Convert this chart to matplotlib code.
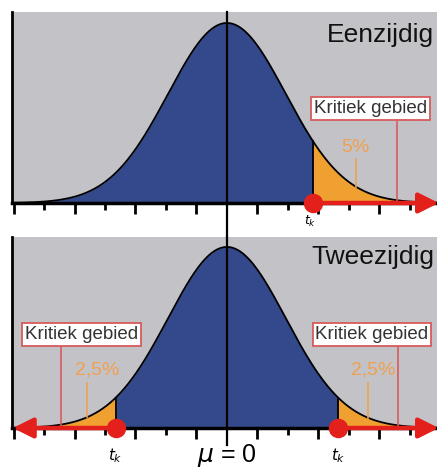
import numpy as np
import matplotlib
matplotlib.use("Agg")
import matplotlib.pyplot as plt

plt.rcParams['font.family'] = ['Liberation Sans', 'DejaVu Sans']

# x in tick units, mu = 0 in the middle
sigma = 1.93
tk_one = 2.82            # eenzijdig
tk_two = [-3.65, 3.65]   # tweezijdig
ticks = np.arange(-7, 7)
titles = ['Eenzijdig', 'Tweezijdig']
pct_one = '5%'
pct_two = '2,5%'
box_text = 'Kritiek gebied'

gray = '#c3c3c7'
blue = '#33498c'
orange = '#f0a030'
red = '#e3201b'
pink = '#d85a5a'
txt_orange = '#f0a050'

xmin, xmax = -7.05, 6.89


def pdf(x):
    return np.exp(-x ** 2 / (2 * sigma ** 2))


fig = plt.figure(figsize=(4.37, 4.72), dpi=100)
ax1 = fig.add_axes([12 / 437, 1 - 203 / 472, 1 - 12 / 437, 191 / 472])
ax2 = fig.add_axes([12 / 437, 1 - 428 / 472, 1 - 12 / 437, 191 / 472])

x = np.linspace(xmin, xmax, 600)
y = pdf(x)

for ax, top in [(ax1, 1.061), (ax2, 1.055)]:
    ax.set_facecolor(gray)
    ax.set_xlim(xmin, xmax)
    ax.set_ylim(0, top)
    for s in ['top', 'right']:
        ax.spines[s].set_visible(False)
    ax.spines['left'].set_linewidth(2)
    ax.spines['bottom'].set_linewidth(2.5)
    ax.set_yticks([])
    ax.set_xticks(ticks[ticks % 2 != 0], minor=False)
    ax.set_xticks(ticks[(ticks % 2 == 0) & (ticks != 0)], minor=True)
    ax.tick_params(axis='x', which='major', direction='out', length=8, width=2, labelbottom=False)
    ax.tick_params(axis='x', which='minor', direction='out', length=5, width=2)
    ax.plot(x, y, color='black', lw=1.3, zorder=3)

arrow = dict(arrowstyle='-|>', color=red, lw=3.2, mutation_scale=30, shrinkA=0, shrinkB=0)

# ---- top: one-sided
m = x <= tk_one
ax1.fill_between(x[m], 0, y[m], color=blue, lw=0, zorder=2)
ax1.fill_between(x[x >= tk_one], 0, y[x >= tk_one], color=orange, lw=0, zorder=2)
ax1.plot([tk_one, tk_one], [0, pdf(tk_one)], color='black', lw=1.3, zorder=3)
ax1.axvline(0, ymin=-0.178, ymax=1, color='black', lw=1.6, clip_on=False, zorder=4)
ax1.text(6.8, 0.935, titles[0], ha='right', va='center', fontsize=19, color='#111111', zorder=5)

ax1.plot([5.57, 5.57], [0, 0.45], color=pink, lw=1.2, zorder=4)
ax1.text(2.86, 0.525, box_text, ha='left', va='center', fontsize=13.5, color='#333333', zorder=6,
         bbox=dict(boxstyle='square,pad=0.15', fc='white', ec=pink, lw=1.3))
ax1.text(4.2, 0.31, pct_one, ha='center', va='center', fontsize=14, color=txt_orange, zorder=5)
ax1.plot([4.23, 4.23], [pdf(4.23), 0.245], color=txt_orange, lw=1.2, zorder=4)

ax1.annotate('', xy=(6.95, 0), xytext=(tk_one, 0), annotation_clip=False, arrowprops=arrow, zorder=6)
ax1.plot([tk_one], [0], 'o', color=red, ms=13, clip_on=False, zorder=7)
ax1.text(tk_one - 0.1, -0.105, '$t_k$', ha='center', va='center', fontsize=9, zorder=1)

# ---- bottom: two-sided
lo, hi = tk_two
ax2.fill_between(x[(x >= lo) & (x <= hi)], 0, y[(x >= lo) & (x <= hi)], color=blue, lw=0, zorder=2)
ax2.fill_between(x[x <= lo], 0, y[x <= lo], color=orange, lw=0, zorder=2)
ax2.fill_between(x[x >= hi], 0, y[x >= hi], color=orange, lw=0, zorder=2)
for t in tk_two:
    ax2.plot([t, t], [0, pdf(t)], color='black', lw=1.3, zorder=3)
ax2.axvline(0, ymin=-0.09, ymax=1.0, color='black', lw=1.6, clip_on=False, zorder=4)
ax2.text(6.8, 0.945, titles[1], ha='right', va='center', fontsize=19, color='#111111', zorder=5)

for bx, lx, px, ox in [(-4.77, -5.44, -4.26, -4.59), (4.76, 5.6, 4.79, 4.62)]:
    ax2.plot([lx, lx], [0, 0.45], color=pink, lw=1.2, zorder=4)
    ax2.text(bx, 0.517, box_text, ha='center', va='center', fontsize=13.5, color='#333333', zorder=6,
             bbox=dict(boxstyle='square,pad=0.15', fc='white', ec=pink, lw=1.3))
    ax2.text(px, 0.32, pct_two, ha='center', va='center', fontsize=14, color=txt_orange, zorder=5)
    ax2.plot([ox, ox], [pdf(ox), 0.25], color=txt_orange, lw=1.2, zorder=4)

ax2.annotate('', xy=(-7.02, 0), xytext=(lo, 0), annotation_clip=False, arrowprops=arrow, zorder=6)
ax2.annotate('', xy=(6.95, 0), xytext=(hi, 0), annotation_clip=False, arrowprops=arrow, zorder=6)
for t in tk_two:
    ax2.plot([t], [0], 'o', color=red, ms=13, clip_on=False, zorder=7)
    ax2.text(t, -0.15, '$t_k$', ha='center', va='center', fontsize=11)
ax2.text(0, -0.15, r'$\mu$ = 0', ha='center', va='center', fontsize=18)

fig.savefig('out.png', dpi=100)
